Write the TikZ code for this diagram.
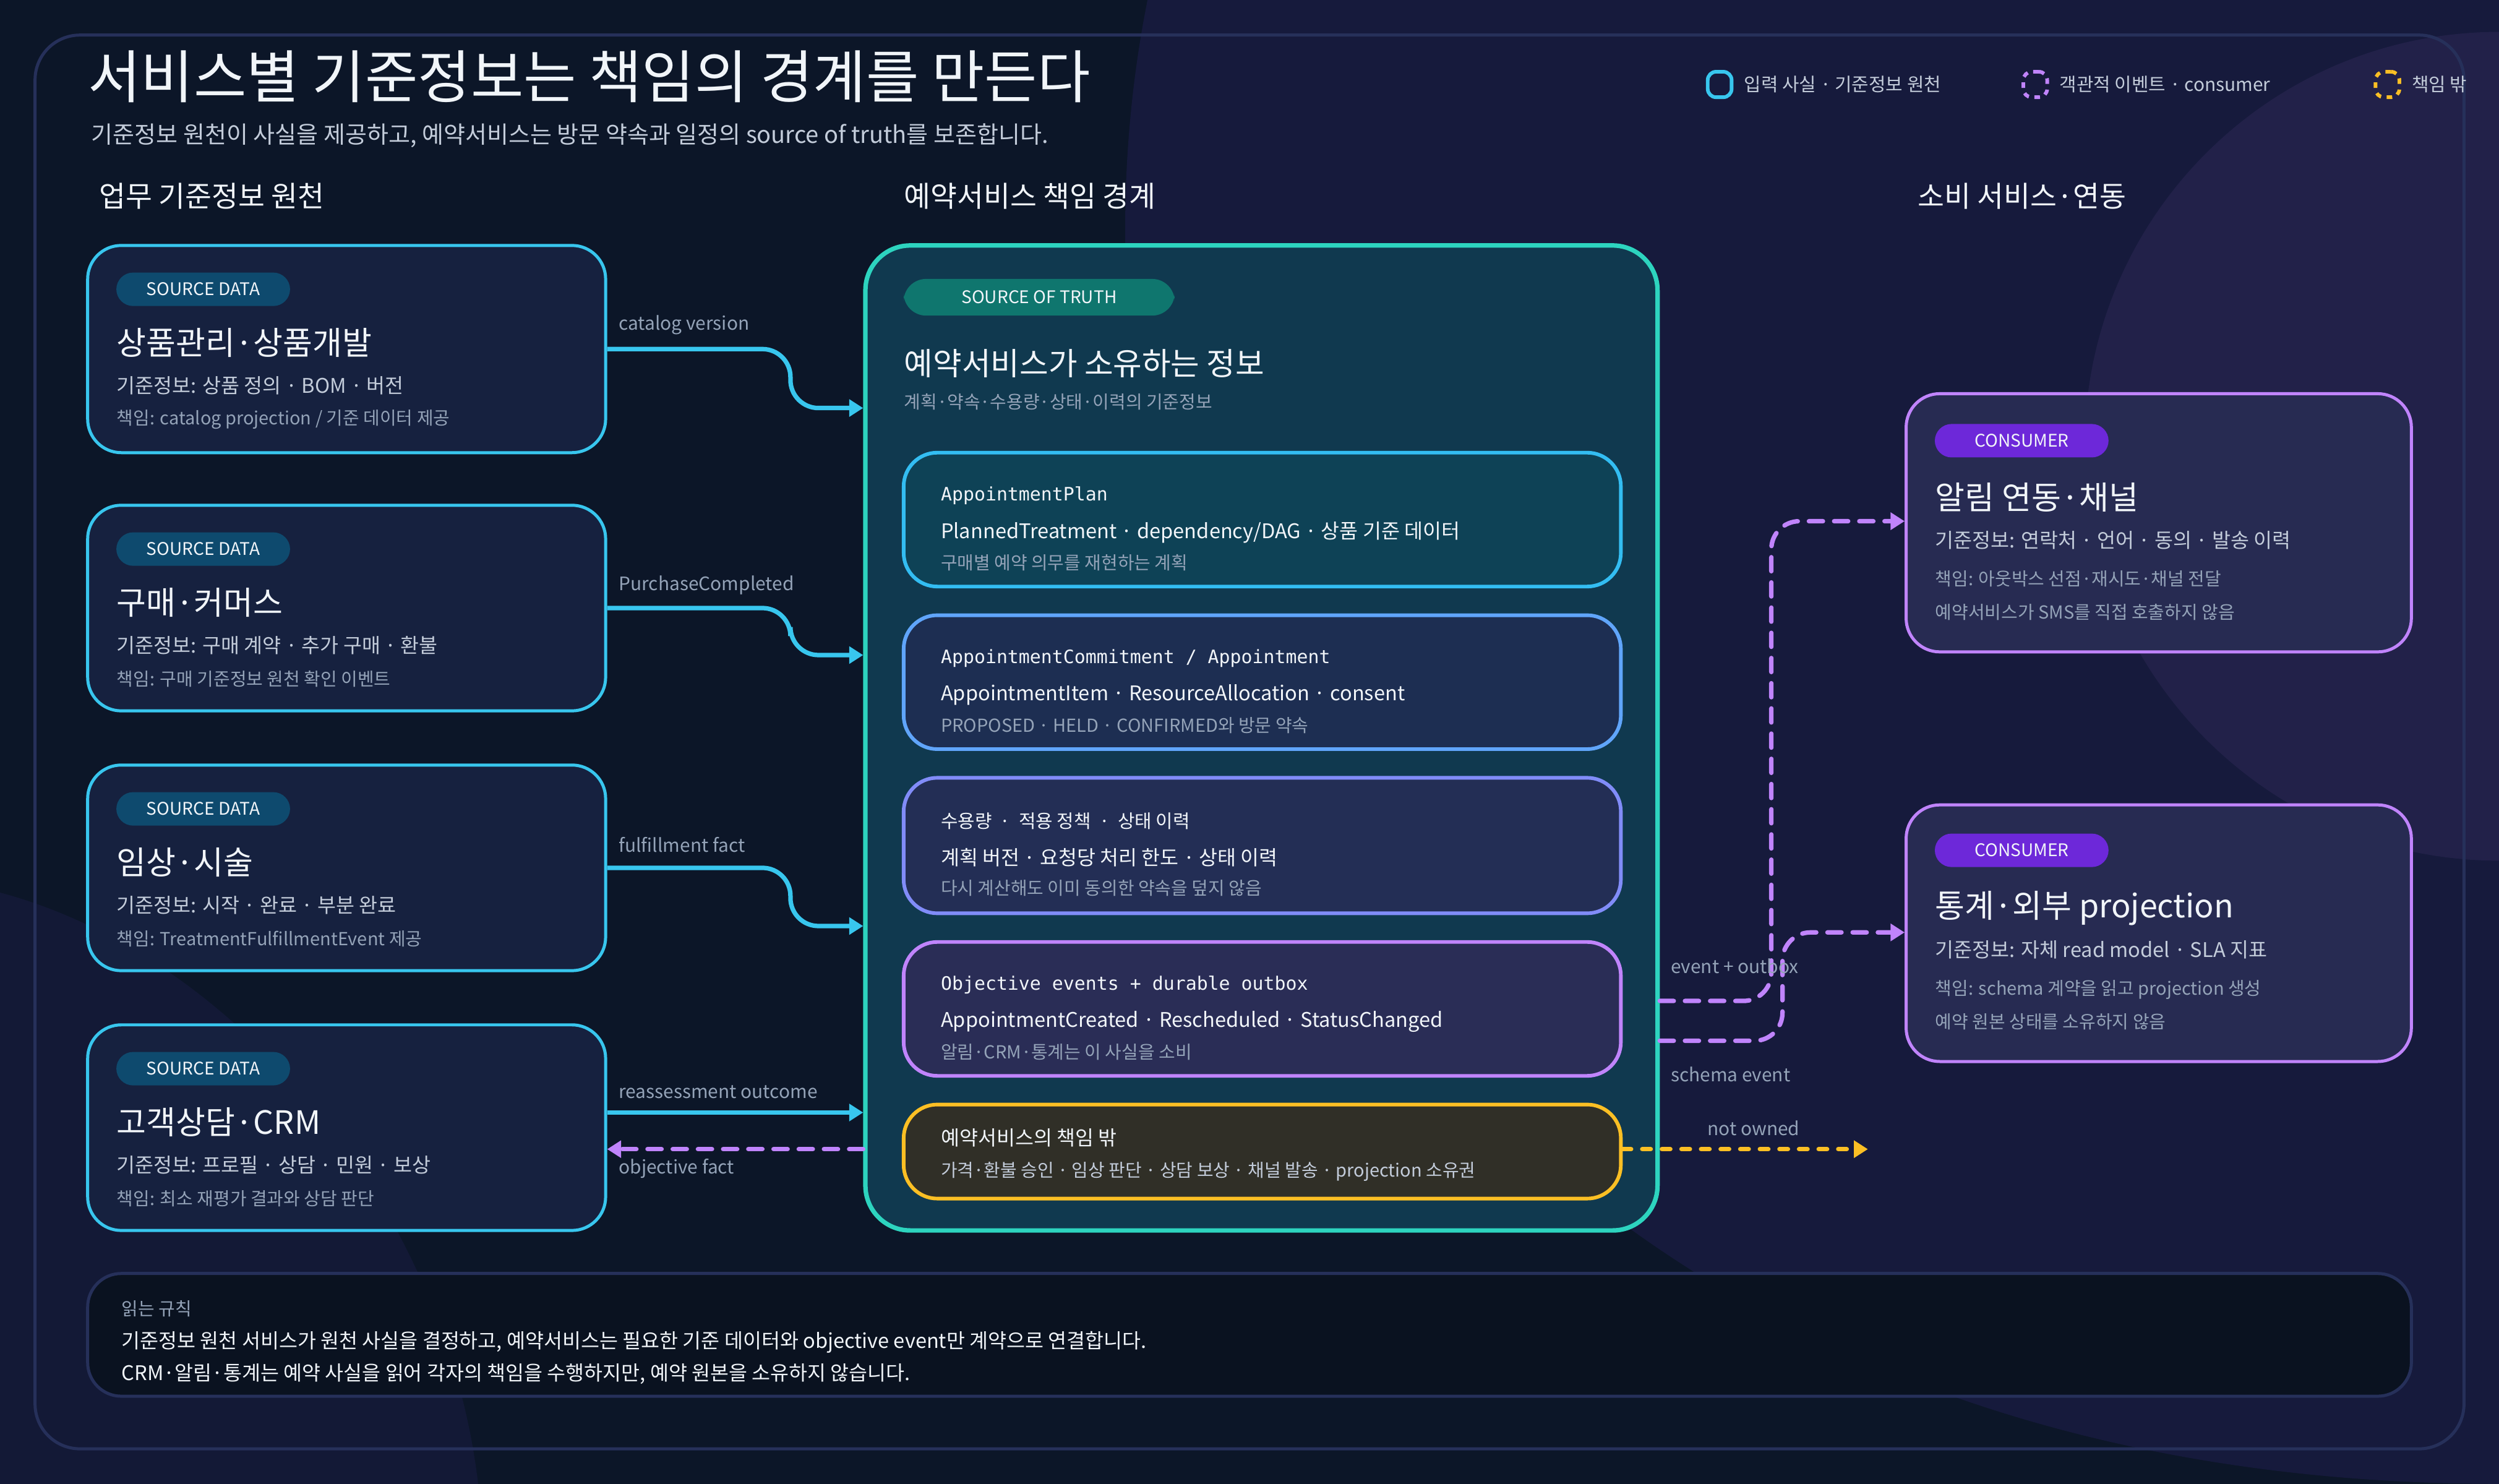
\documentclass[tikz,border=0pt]{standalone}
\usepackage{fontspec}
\setmainfont{Noto Sans CJK KR}
\setmonofont{DejaVu Sans Mono}
\usetikzlibrary{arrows.meta, fit, calc}
\definecolor{bgdark}{HTML}{0C1628}
\definecolor{bgviolet}{HTML}{161A3C}
\definecolor{frameline}{HTML}{26305A}
\definecolor{cyanline}{HTML}{38C6EE}
\definecolor{tealline}{HTML}{2DD4BF}
\definecolor{blueline}{HTML}{60A5FA}
\definecolor{indigoline}{HTML}{818CF8}
\definecolor{violetline}{HTML}{C084FC}
\definecolor{amberline}{HTML}{FBBF24}
\definecolor{cardfill}{HTML}{16213F}
\definecolor{srcbadge}{HTML}{0E4A6E}
\definecolor{sotbadge}{HTML}{0F766E}
\definecolor{conbadge}{HTML}{6D28D9}
\definecolor{textmain}{HTML}{F1F5F9}
\definecolor{textsub}{HTML}{C3CCDA}
\definecolor{textdim}{HTML}{94A3B8}
\tikzset{
  card/.style = {draw, rounded corners=12pt, line width=1.1pt, inner sep=0pt},
  badge/.style = {rounded corners=6pt, inner sep=0pt},
  badgetext/.style = {text=textmain, font=\fontsize{6.2}{8}\selectfont},
  tl/.style = {anchor=west, inner sep=0pt, text=textmain, font=\fontsize{11.5}{14}\selectfont},
  bd/.style = {anchor=west, inner sep=0pt, text=textsub, font=\fontsize{7.2}{9}\selectfont},
  sm/.style = {anchor=west, inner sep=0pt, text=textdim, font=\fontsize{6.4}{8}\selectfont},
  mono/.style = {anchor=west, inner sep=0pt, text=textmain, font=\ttfamily\fontsize{6.6}{8}\selectfont},
  lbl/.style = {anchor=west, inner sep=0pt, text=textdim, font=\fontsize{6.6}{8}\selectfont},
  feed/.style = {draw=cyanline, line width=1.6pt, rounded corners=10pt, -{Triangle[length=5pt,width=6pt]}},
  evt/.style = {draw=violetline, line width=1.6pt, rounded corners=10pt, dash pattern=on 5pt off 4pt, line cap=round, -{Triangle[length=5pt,width=6pt]}},
  outside/.style = {draw=amberline, line width=1.6pt, dash pattern=on 3pt off 4pt, line cap=round, -{Triangle[length=5pt,width=6pt]}}
}
\begin{document}
\begin{tikzpicture}[x=0.02cm, y=-0.02cm]
\useasboundingbox (0,0) rectangle (1568,931);
% background
\begin{scope}
\clip (0,0) rectangle (1568,931);
\fill[bgdark] (0,0) rectangle (1568,931);
\fill[bgviolet] (720,0) .. controls (640,400) and (900,931) .. (1568,931) -- (1568,0) -- cycle;
\fill[bgviolet!70!bgdark] (0,560) .. controls (150,600) and (280,760) .. (300,931) -- (0,931) -- cycle;
\fill[bgviolet!93!violetline] (1568,280) circle (260);
\end{scope}
\node[card, draw=frameline, rounded corners=16pt, fit={(22,22) (1546,909)}] (frame) {};

% title and legend
\node[anchor=west, inner sep=0pt, text=textmain, font=\fontsize{20.5}{24}\selectfont] (title) at (55,48) {서비스별 기준정보는 책임의 경계를 만든다};
\node[anchor=west, inner sep=0pt, text=textsub, font=\fontsize{8.4}{10}\selectfont] (subtitle) at (57,85) {기준정보 원천이 사실을 제공하고, 예약서비스는 방문 약속과 일정의 source of truth를 보존합니다.};
\node[draw=cyanline, line width=1.3pt, rounded corners=3pt, minimum width=0.3cm, minimum height=0.32cm] (lg1) at (1079,53) {};
\node[lbl, text=textsub] at (1094,53) {입력 사실 · 기준정보 원천};
\node[draw=violetline, line width=1.3pt, rounded corners=3pt, dash pattern=on 2pt off 2pt, minimum width=0.3cm, minimum height=0.32cm] (lg2) at (1277,53) {};
\node[lbl, text=textsub] at (1292,53) {객관적 이벤트 · consumer};
\node[draw=amberline, line width=1.3pt, rounded corners=3pt, dash pattern=on 2pt off 2pt, minimum width=0.3cm, minimum height=0.32cm] (lg3) at (1498,53) {};
\node[lbl, text=textsub] at (1513,53) {책임 밖};

% column headings
\node[anchor=west, inner sep=0pt, text=textmain, font=\fontsize{10.3}{12}\selectfont] (hsrc) at (62,123) {업무 기준정보 원천};
\node[anchor=west, inner sep=0pt, text=textmain, font=\fontsize{10.3}{12}\selectfont] (hsot) at (567,123) {예약서비스 책임 경계};
\node[anchor=west, inner sep=0pt, text=textmain, font=\fontsize{10.3}{12}\selectfont] (hcon) at (1203,123) {소비 서비스·연동};

% source cards
\node[card, draw=cyanline, fill=cardfill, fit={(55,154) (380,284)}] (prod) {};
\node[badge, fill=srcbadge, fit={(73,171) (182,192)}] (prodtag) {};
\node[badgetext] at (prodtag) {SOURCE DATA};
\node[tl] at (73,215) {상품관리·상품개발};
\node[bd] at (73,242) {기준정보: 상품 정의 · BOM · 버전};
\node[sm] at (73,263) {책임: catalog projection / 기준 데이터 제공};

\node[card, draw=cyanline, fill=cardfill, fit={(55,317) (380,446)}] (purch) {};
\node[badge, fill=srcbadge, fit={(73,334) (182,355)}] (purchtag) {};
\node[badgetext] at (purchtag) {SOURCE DATA};
\node[tl] at (73,378) {구매·커머스};
\node[bd] at (73,405) {기준정보: 구매 계약 · 추가 구매 · 환불};
\node[sm] at (73,426) {책임: 구매 기준정보 원천 확인 이벤트};

\node[card, draw=cyanline, fill=cardfill, fit={(55,480) (380,609)}] (clin) {};
\node[badge, fill=srcbadge, fit={(73,497) (182,518)}] (clintag) {};
\node[badgetext] at (clintag) {SOURCE DATA};
\node[tl] at (73,541) {임상·시술};
\node[bd] at (73,568) {기준정보: 시작 · 완료 · 부분 완료};
\node[sm] at (73,589) {책임: TreatmentFulfillmentEvent 제공};

\node[card, draw=cyanline, fill=cardfill, fit={(55,643) (380,772)}] (crm) {};
\node[badge, fill=srcbadge, fit={(73,660) (182,681)}] (crmtag) {};
\node[badgetext] at (crmtag) {SOURCE DATA};
\node[tl] at (73,704) {고객상담·CRM};
\node[bd] at (73,731) {기준정보: 프로필 · 상담 · 민원 · 보상};
\node[sm] at (73,752) {책임: 최소 재평가 결과와 상담 판단};

% source of truth
\node[card, draw=tealline, line width=1.6pt, rounded corners=16pt, fill=teal!25!cardfill, fit={(543,154) (1040,772)}] (sot) {};
\node[badge, fill=sotbadge, rounded corners=8pt, fit={(567,175) (737,198)}] (sottag) {};
\node[badgetext] at (sottag) {SOURCE OF TRUTH};
\node[tl, font=\fontsize{11.2}{13}\selectfont] at (567,228) {예약서비스가 소유하는 정보};
\node[sm] at (567,252) {계획·약속·수용량·상태·이력의 기준정보};

\node[card, draw=cyan!80!white, line width=1.3pt, fill=teal!35!cardfill, fit={(567,284) (1017,368)}] (plan) {};
\node[mono] at (590,311) {AppointmentPlan};
\node[bd, text=textmain] at (590,334) {PlannedTreatment · dependency/DAG · 상품 기준 데이터};
\node[sm] at (590,353) {구매별 예약 의무를 재현하는 계획};

\node[card, draw=blueline, line width=1.3pt, fill=blueline!10!cardfill, fit={(567,386) (1017,470)}] (commit) {};
\node[mono] at (590,413) {AppointmentCommitment / Appointment};
\node[bd, text=textmain] at (590,436) {AppointmentItem · ResourceAllocation · consent};
\node[sm] at (590,455) {PROPOSED · HELD · CONFIRMED와 방문 약속};

\node[card, draw=indigoline, line width=1.3pt, fill=indigoline!12!cardfill, fit={(567,488) (1017,573)}] (cap) {};
\node[mono, font=\fontsize{6.6}{8}\selectfont] at (590,515) {수용량 \ · \ 적용 정책 \ · \ 상태 이력};
\node[bd, text=textmain] at (590,538) {계획 버전 · 요청당 처리 한도 · 상태 이력};
\node[sm] at (590,557) {다시 계산해도 이미 동의한 약속을 덮지 않음};

\node[card, draw=violetline, line width=1.3pt, fill=violetline!12!cardfill, fit={(567,591) (1017,675)}] (obj) {};
\node[mono] at (590,618) {Objective events + durable outbox};
\node[bd, text=textmain] at (590,641) {AppointmentCreated · Rescheduled · StatusChanged};
\node[sm] at (590,660) {알림·CRM·통계는 이 사실을 소비};

\node[card, draw=amberline, line width=1.3pt, fill=amberline!15!bgdark, fit={(567,693) (1017,752)}] (out) {};
\node[bd, text=textmain] at (590,714) {예약서비스의 책임 밖};
\node[sm, text=textsub] at (590,735) {가격·환불 승인 · 임상 판단 · 상담 보상 · 채널 발송 · projection 소유권};

% consumers
\node[card, draw=violetline, fill=violetline!10!cardfill, fit={(1196,247) (1513,409)}] (noti) {};
\node[badge, fill=conbadge, fit={(1214,266) (1323,287)}] (notitag) {};
\node[badgetext] at (notitag) {CONSUMER};
\node[tl] at (1214,312) {알림 연동·채널};
\node[bd] at (1214,339) {기준정보: 연락처 · 언어 · 동의 · 발송 이력};
\node[sm] at (1214,363) {책임: 아웃박스 선점·재시도·채널 전달};
\node[sm] at (1214,384) {예약서비스가 SMS를 직접 호출하지 않음};

\node[card, draw=violetline, fill=violetline!10!cardfill, fit={(1196,505) (1513,666)}] (stat) {};
\node[badge, fill=conbadge, fit={(1214,523) (1323,544)}] (stattag) {};
\node[badgetext] at (stattag) {CONSUMER};
\node[tl] at (1214,570) {통계·외부 projection};
\node[bd] at (1214,596) {기준정보: 자체 read model · SLA 지표};
\node[sm] at (1214,621) {책임: schema 계약을 읽고 projection 생성};
\node[sm] at (1214,641) {예약 원본 상태를 소유하지 않음};

% rules box
\node[card, draw=frameline, fill=bgdark!80!black, fit={(55,799) (1513,876)}] (rules) {};
\node[sm] at (76,821) {읽는 규칙};
\node[bd, text=textmain] at (76,842) {기준정보 원천 서비스가 원천 사실을 결정하고, 예약서비스는 필요한 기준 데이터와 objective event만 계약으로 연결합니다.};
\node[bd, text=textmain] at (76,862) {CRM·알림·통계는 예약 사실을 읽어 각자의 책임을 수행하지만, 예약 원본을 소유하지 않습니다.};

% connectors
\coordinate (in1) at ($(sot.west)+(0,-207)$);
\coordinate (in2) at ($(sot.west)+(0,-52)$);
\coordinate (in3) at ($(sot.west)+(0,118)$);
\coordinate (in4) at ($(sot.west)+(0,235)$);
\coordinate (back) at ($(sot.west)+(0,258)$);
\draw[feed] (prod.east) -- ++(115,0) |- (in1);
\node[lbl] at (388,204) {catalog version};
\draw[feed] (purch.east) -- ++(115,0) |- (in2);
\node[lbl] at (388,367) {PurchaseCompleted};
\draw[feed] (clin.east) -- ++(115,0) |- (in3);
\node[lbl] at (388,530) {fulfillment fact};
\draw[feed] (crm.east |- in4) -- (in4);
\node[lbl] at (388,685) {reassessment outcome};
\draw[evt] (back) -- (crm.east |- back);
\node[lbl] at (388,733) {objective fact};

\coordinate (ev1) at ($(sot.east)+(0,165)$);
\coordinate (ev2) at ($(sot.east)+(0,190)$);
\coordinate (sinkout) at (1172,721);
\draw[evt] (ev1) -- ++(70,0) |- ($(noti.west)+(0,-1)$);
\draw[evt] (ev2) -- ++(77,0) |- ($(stat.west)+(0,-0.5)$);
\node[lbl] at (1048,606) {event + outbox};
\node[lbl] at (1048,674) {schema event};
\draw[outside] (out.east |- sinkout) -- (sinkout);
\node[lbl] at (1071,708) {not owned};
\end{tikzpicture}
\end{document}
